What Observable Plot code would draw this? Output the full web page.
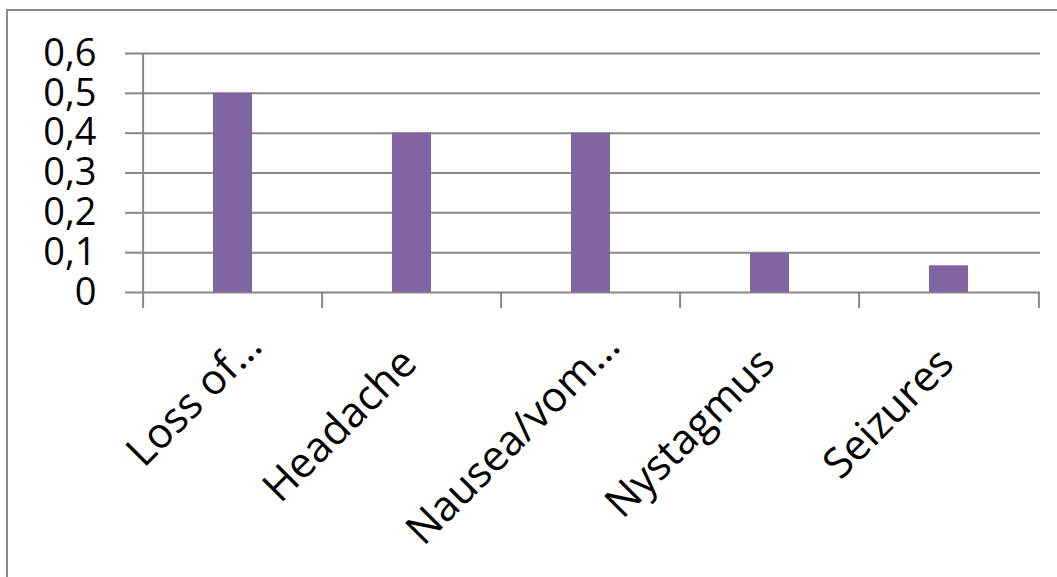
<!DOCTYPE html>
<html>
<head>
<meta charset="utf-8">
<script src="https://cdn.jsdelivr.net/npm/d3@7"></script>
<script src="https://cdn.jsdelivr.net/npm/@observablehq/plot@0.6"></script>
<style>
  html, body { margin: 0; padding: 0; background: #fff; }
  #wrap { position: relative; width: 1057px; height: 577px; overflow: hidden; }
  #border { position: absolute; left: 6px; top: 9px; width: 1200px; height: 800px;
            border: 2px solid #8a8a8a; box-sizing: border-box; }
  #chart { position: absolute; left: 0; top: 0; }
</style>
</head>
<body>
<div id="wrap">
  <div id="border"></div>
  <div id="chart"></div>
</div>
<script>
// Symptom frequencies (share of patients)
const symptoms = ["Loss of…", "Headache", "Nausea/vom…", "Nystagmus", "Seizures"];
const shares = [0.5, 0.4, 0.4, 0.098, 0.067];
const yTicks = [0, 0.1, 0.2, 0.3, 0.4, 0.5, 0.6];

const rows = symptoms.map((s, i) => ({symptom: s, share: shares[i], truncated: s.endsWith("…")}));

const W = 1057, H = 577;
const mL = 141, mR = 17, mT = 53, mB = 285;
const band = (W - mL - mR) / symptoms.length;
const gray = "#878787";
const commaFmt = d => d === 0 ? "0" : d.toFixed(1).replace(".", ",");

const labelStyle = {x: "symptom", text: "symptom", frameAnchor: "bottom", rotate: -45,
                    textAnchor: "end", lineAnchor: "bottom", fontSize: 42, fill: "#000"};

const chart = Plot.plot({
  width: W,
  height: H,
  marginLeft: mL,
  marginRight: mR,
  marginTop: mT,
  marginBottom: mB,
  style: {fontFamily: "'Open Sans', sans-serif", fontSize: "38px", color: "#000", background: "transparent", overflow: "visible"},
  x: {domain: symptoms, padding: 0},
  y: {domain: [0, 0.6]},
  marks: [
    // horizontal gridlines
    Plot.ruleY(yTicks, {stroke: gray, strokeWidth: 2}),
    // value axis line
    Plot.ruleX([symptoms[0]], {dx: -band / 2, stroke: gray, strokeWidth: 2}),
    // value axis ticks and labels
    Plot.axisY({ticks: yTicks, tickSize: 16, tickPadding: 29, tickFormat: commaFmt,
                stroke: gray, strokeWidth: 2, label: null, fill: "#000"}),
    // category boundary ticks
    Plot.axisX({tickSize: 16, tickFormat: () => "", dx: -band / 2, stroke: gray, strokeWidth: 2, label: null}),
    Plot.axisX({ticks: [symptoms[symptoms.length - 1]], tickSize: 16, tickFormat: () => "", dx: band / 2,
                stroke: gray, strokeWidth: 2, label: null}),
    // bars
    Plot.barY(rows, {x: "symptom", y: "share", fill: "#8064A2", insetLeft: 70, insetRight: 70}),
    // rotated category labels (shortened labels sit a little further along)
    Plot.text(rows.filter(d => d.truncated), {...labelStyle, dx: 31, dy: 56}),
    Plot.text(rows.filter(d => !d.truncated), {...labelStyle, dx: 7, dy: 73})
  ]
});

document.getElementById("chart").appendChild(chart);
</script>
</body>
</html>
